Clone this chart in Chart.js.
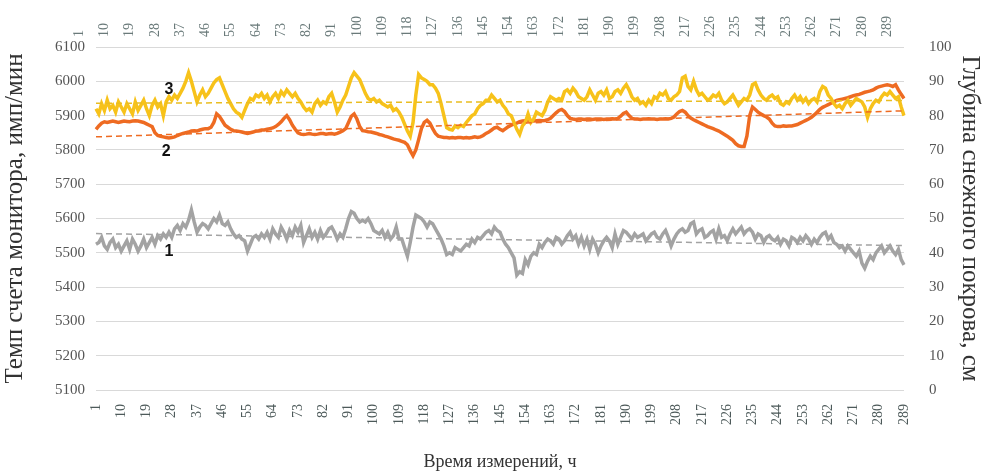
<!DOCTYPE html>
<html>
<head>
<meta charset="utf-8">
<script src="https://cdn.jsdelivr.net/npm/chart.js"></script>
<style>
  body { margin: 0; background: #fff; }
  #wrap { width: 985px; height: 475px; }
</style>
</head>
<body>
<div id="wrap"><canvas id="chart"></canvas></div>
<script>
// hours 1..289
const hours = [];
for (let h = 1; h <= 289; h++) hours.push(String(h));

// 1 - count rate (gray), imp/min
const rate1 = [
  5525, 5530, 5545, 5520, 5510, 5530, 5540, 5515, 5525, 5505,
  5520, 5535, 5510, 5540, 5525, 5505, 5520, 5540, 5515, 5530,
  5545, 5525, 5550, 5540, 5555, 5545, 5560, 5545, 5570, 5580,
  5565, 5585, 5575, 5595, 5625, 5590, 5560, 5575, 5585, 5580,
  5570, 5585, 5600, 5590, 5610, 5585, 5580, 5590, 5570, 5555,
  5545, 5550, 5540, 5535, 5505, 5525, 5545, 5550, 5540, 5555,
  5545, 5560, 5540, 5570, 5555, 5545, 5575, 5560, 5540, 5565,
  5550, 5575, 5560, 5580, 5530, 5550, 5570, 5545, 5560, 5540,
  5565, 5545, 5555, 5570, 5575, 5560, 5540, 5555, 5545, 5570,
  5600, 5620, 5615, 5600, 5590, 5595, 5590, 5600, 5585, 5565,
  5560, 5555, 5565, 5545, 5560, 5540, 5550, 5575, 5540, 5540,
  5515, 5490, 5530, 5575, 5610, 5605, 5600, 5590, 5575, 5590,
  5585, 5570, 5555, 5540, 5520, 5495, 5500, 5495, 5515, 5510,
  5505, 5515, 5525, 5520, 5540, 5530, 5545, 5540, 5550, 5560,
  5565, 5555, 5575, 5565, 5560, 5540, 5525, 5515, 5500, 5485,
  5435, 5445, 5440, 5480, 5465, 5490, 5500, 5495, 5525, 5515,
  5530, 5540, 5535, 5525, 5545, 5540, 5525, 5535, 5550, 5560,
  5540, 5550, 5525, 5545, 5520, 5540, 5510, 5540, 5525, 5500,
  5520, 5535, 5545, 5535, 5515, 5555, 5525, 5545, 5565, 5560,
  5550, 5540, 5555, 5545, 5550, 5555, 5535, 5545, 5555, 5560,
  5545, 5540, 5555, 5565, 5545, 5520, 5540, 5555, 5565, 5570,
  5560, 5565, 5585, 5590, 5555, 5565, 5570, 5545, 5550, 5560,
  5565, 5540, 5570, 5545, 5550, 5535, 5555, 5570, 5555, 5565,
  5575, 5555, 5565, 5570, 5560, 5540, 5555, 5550, 5530, 5545,
  5550, 5540, 5535, 5545, 5525, 5540, 5535, 5520, 5545, 5540,
  5530, 5545, 5535, 5550, 5540, 5525, 5540, 5530, 5545, 5555,
  5560, 5540, 5550, 5530, 5525, 5515, 5520, 5505, 5520, 5510,
  5500, 5490, 5505, 5470, 5455, 5475, 5490, 5480, 5500, 5510,
  5520, 5500, 5510, 5520, 5505, 5495, 5510, 5480, 5465
];

// 2 - snow depth (orange), cm
const snow2 = [
  76.0, 77.0, 77.8, 78.2, 78.0, 78.2, 78.4, 78.2, 78.0, 78.2,
  78.4, 78.3, 78.2, 78.4, 78.5, 78.4, 78.2, 78.0, 77.6, 77.2,
  76.8, 75.0, 74.2, 74.0, 73.8, 73.6, 73.5, 73.6, 73.8, 74.2,
  74.5, 74.8, 75.0, 75.2, 75.5, 75.6, 75.5, 75.8, 76.0, 76.2,
  76.2, 76.6, 78.0, 80.5, 79.8, 78.5, 77.2, 76.6, 76.0, 75.6,
  75.5, 75.4, 75.2, 75.0, 74.8, 75.0, 75.2, 75.5, 75.6, 75.8,
  75.8, 76.0, 76.2, 76.4, 76.8, 77.4, 78.2, 79.2, 80.0, 78.8,
  77.2, 76.0, 75.0, 74.6, 74.5, 74.6, 74.8, 74.6, 74.5, 74.6,
  74.8, 74.8, 74.6, 74.7, 74.8, 74.6, 74.8, 75.2, 75.6, 76.2,
  78.0, 79.8, 80.5, 79.0, 76.8, 75.6, 75.5, 75.3, 75.2, 75.0,
  74.8, 74.5, 74.3, 74.0, 73.8, 73.5, 73.2, 73.0, 72.8, 72.5,
  72.2, 71.5, 69.8, 68.3, 70.0, 73.0, 76.2, 78.0, 78.6, 77.8,
  76.2, 74.8, 74.0, 73.8, 73.6, 73.6, 73.5, 73.6, 73.5, 73.6,
  73.6, 73.5, 73.6, 73.5, 73.6, 73.8, 73.6, 73.8, 74.2, 74.8,
  75.2, 75.8, 76.4, 76.6, 76.0, 75.6, 76.2, 76.8, 77.2, 77.6,
  77.8, 78.2, 78.4, 78.5, 78.5, 78.6, 78.4, 78.5, 78.6, 78.5,
  78.6, 78.8, 79.2, 80.0, 80.8, 81.5, 81.8, 81.2, 80.0, 79.2,
  79.0, 78.9, 79.0, 79.0, 78.9, 79.0, 79.0, 78.9, 79.0, 79.0,
  79.0, 78.9, 79.0, 79.0, 79.1, 79.0, 79.2, 79.8, 80.6, 81.0,
  80.0, 79.2, 79.0, 79.0, 78.9, 79.0, 79.0, 79.1, 79.0, 79.0,
  78.9, 79.0, 79.0, 79.1, 79.0, 79.2, 79.6, 80.5, 81.2, 81.5,
  81.0, 80.0, 79.3, 78.8, 78.4, 78.0, 77.6, 77.2, 76.8, 76.5,
  76.2, 75.8, 75.5, 75.0, 74.5, 74.0, 73.4, 72.8, 71.8, 71.2,
  71.0, 71.0, 74.0, 80.0, 82.5, 81.8, 81.0, 80.5, 80.0, 79.6,
  79.0, 77.8, 77.0, 76.8, 76.8, 77.0, 76.9, 77.0, 77.0, 77.2,
  77.4, 77.8, 78.2, 78.6, 79.0, 79.5, 80.2, 81.0, 81.8, 82.4,
  82.8, 83.2, 83.6, 84.0, 84.4, 84.6, 84.8, 85.0, 85.2, 85.5,
  85.8, 86.0, 86.2, 86.5, 86.8, 87.0, 87.2, 87.5, 88.0, 88.4,
  88.6, 88.8, 89.0, 88.8, 88.5, 89.0, 87.5, 86.2, 85.0
];

// 3 - count rate (yellow), imp/min
const rate3 = [
  5920, 5905, 5935, 5915, 5945, 5920, 5930, 5910, 5940, 5925,
  5910, 5935, 5920, 5905, 5940, 5915, 5930, 5945, 5920, 5900,
  5930, 5945, 5925, 5935, 5900, 5940, 5955, 5945, 5960, 5950,
  5965, 5980, 6000, 6025, 6000, 5970, 5940, 5960, 5975, 5955,
  5965, 5980, 5995, 6005, 6010, 5990, 5970, 5950, 5935, 5920,
  5910, 5905, 5895, 5915, 5935, 5950, 5945, 5960, 5955, 5965,
  5950, 5960, 5940, 5955, 5965, 5950, 5970, 5960, 5975, 5965,
  5955, 5965, 5950, 5940, 5925, 5915, 5920, 5910, 5935, 5945,
  5930, 5940, 5935, 5955, 5965, 5940, 5910, 5925, 5945, 5960,
  5985, 6010, 6025, 6015, 6005, 5985, 5965, 5950, 5945, 5950,
  5940, 5945, 5935, 5930, 5925, 5930, 5915, 5920, 5910, 5895,
  5875, 5855, 5840, 5880, 5960, 6020, 6010, 6005, 6000, 5990,
  5990, 5980, 5965, 5935, 5900, 5865, 5860, 5858, 5870, 5865,
  5872, 5868, 5880, 5890, 5900, 5905, 5920, 5930, 5935, 5945,
  5945, 5960, 5950, 5940, 5945, 5930, 5920, 5905, 5900, 5880,
  5860, 5845, 5870, 5880, 5905, 5880, 5890, 5910, 5905, 5900,
  5915, 5940, 5955, 5950, 5945, 5950, 5945, 5970, 5975, 5965,
  5980, 5970, 5955, 5950, 5945, 5955, 5975, 5960, 5945, 5965,
  5970, 5960, 5975, 5950, 5955, 5970, 5975, 5965, 5980, 5990,
  5975, 5955, 5945, 5950, 5935, 5940, 5930, 5945, 5935, 5955,
  5950, 5965, 5960, 5970, 5950, 5945, 5955, 5960, 5970, 6010,
  6015, 5985, 5975, 6000, 5975, 5960, 5965, 5955, 5945, 5950,
  5960, 5955, 5965, 5945, 5935, 5940, 5950, 5960, 5945, 5930,
  5940, 5950, 5945, 5960, 5990, 5995, 5975, 5960, 5950, 5945,
  5955, 5960, 5950, 5955, 5935, 5930, 5940, 5935, 5950, 5960,
  5945, 5955, 5940, 5950, 5935, 5945, 5950, 5940, 5970, 5985,
  5980, 5960, 5950, 5935, 5925, 5930, 5920, 5935, 5945, 5930,
  5940, 5950, 5945, 5940, 5925, 5895, 5920, 5935, 5945, 5940,
  5955, 5965, 5960, 5970, 5960, 5950, 5955, 5925, 5900
];

// linear trends: [first hour, last hour]
const trend1 = [5556, 5521];
const trend2 = [73.8, 81.4];
const trend3 = [5936, 5944];

// series numbers written on the plot: [text, hour, value on left axis]
const tags = [["1", "27", 5503], ["2", "26", 5795], ["3", "27", 5975]];

const gray = "#a3a3a3", orange = "#ee6b22", yellow = "#f7c21a";
const serif = "'Liberation Serif', 'Times New Roman', serif";

function trendData(t) {
  return [{ x: hours[0], y: t[0] }, { x: hours[hours.length - 1], y: t[1] }];
}

const tagPlugin = {
  id: "tags",
  afterDatasetsDraw(chart) {
    const ctx = chart.ctx, xs = chart.scales.x, ys = chart.scales.y;
    ctx.save();
    ctx.font = "bold 16px 'Liberation Sans', Arial, sans-serif";
    ctx.fillStyle = "#111";
    ctx.textAlign = "center";
    ctx.textBaseline = "middle";
    tags.forEach(t => {
      ctx.fillText(t[0], xs.getPixelForValue(hours.indexOf(t[1])), ys.getPixelForValue(t[2]));
    });
    ctx.restore();
  }
};

function everyNinth(val, i) {
  return i % 9 === 0 ? hours[i] : "";
}

new Chart(document.getElementById("chart"), {
  type: "line",
  data: {
    labels: hours,
    datasets: [
      { label: "1", data: rate1, borderColor: gray, borderWidth: 3.5, yAxisID: "y", order: 6 },
      { label: "2", data: snow2, borderColor: orange, borderWidth: 3.5, yAxisID: "y1", order: 5 },
      { label: "3", data: rate3, borderColor: yellow, borderWidth: 3.5, yAxisID: "y", order: 4 },
      { label: "t1", data: trendData(trend1), borderColor: gray, borderWidth: 1.5, borderDash: [6, 4], yAxisID: "y", order: 3 },
      { label: "t2", data: trendData(trend2), borderColor: orange, borderWidth: 1.5, borderDash: [6, 4], yAxisID: "y1", order: 2 },
      { label: "t3", data: trendData(trend3), borderColor: "#e9bd22", borderWidth: 1.5, borderDash: [6, 4], yAxisID: "y", order: 1 }
    ]
  },
  options: {
    responsive: true,
    maintainAspectRatio: false,
    animation: false,
    layout: { padding: 0 },
    elements: { point: { radius: 0 }, line: { tension: 0 } },
    plugins: { legend: { display: false }, tooltip: { enabled: false } },
    scales: {
      x: {
        position: "bottom",
        grid: { display: false },
        border: { display: false },
        ticks: { autoSkip: false, minRotation: 90, maxRotation: 90, padding: 6, color: "#4d5a5a",
                 font: { family: serif, size: 14 }, callback: everyNinth },
        title: { display: true, text: "Время измерений, ч", color: "#333",
                 font: { family: serif, size: 18 }, padding: { top: 0, bottom: 2 } },
        afterFit(s) { s.height = 85; }
      },
      x2: {
        type: "category",
        labels: hours,
        position: "top",
        grid: { display: false },
        border: { display: false },
        ticks: { autoSkip: false, minRotation: 90, maxRotation: 90, padding: 2, color: "#6a7a7a",
                 font: { family: serif, size: 14 }, callback: everyNinth },
        afterFit(s) { s.height = 47; }
      },
      y: {
        position: "left",
        min: 5100, max: 6100,
        ticks: { stepSize: 100, padding: 11, color: "#555", font: { family: serif, size: 15 },
                 callback: v => String(v) },
        grid: { color: "#d9d9d9", drawTicks: false },
        border: { display: false },
        title: { display: true, text: "Темп счета монитора, имп/мин", color: "#333",
                 font: { family: serif, size: 25 }, padding: { top: 0, bottom: 0 } },
        afterFit(s) { s.width = 96; }
      },
      y1: {
        position: "right",
        min: 0, max: 100,
        ticks: { stepSize: 10, padding: 25, color: "#555", font: { family: serif, size: 15 },
                 callback: v => String(v) },
        grid: { display: false, drawTicks: false },
        border: { display: false },
        title: { display: true, text: "Глубина снежного покрова, см", color: "#333",
                 font: { family: serif, size: 25 }, padding: { top: 0, bottom: 0 } },
        afterFit(s) { s.width = 81; }
      }
    }
  },
  plugins: [tagPlugin]
});
</script>
</body>
</html>
